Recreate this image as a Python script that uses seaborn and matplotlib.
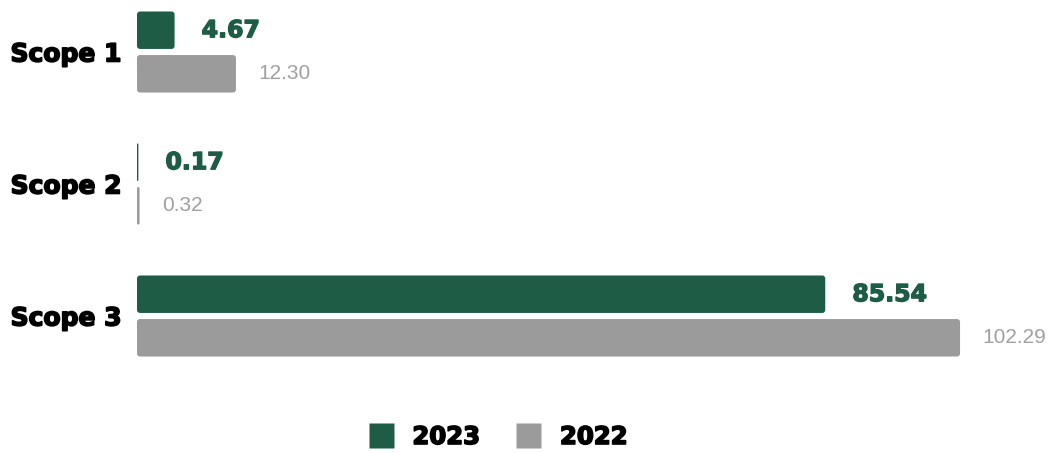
import matplotlib.pyplot as plt
import matplotlib.patheffects as pe
import pandas as pd
import seaborn as sns
from matplotlib.patches import FancyBboxPatch
from matplotlib.lines import Line2D

# Emissions by scope (values as shown on the chart)
scopes = ['Scope 1', 'Scope 2', 'Scope 3']
years = ['2023', '2022']
values_2023 = [4.67, 0.17, 85.54]
values_2022 = [12.30, 0.32, 102.29]

green = '#1f5c45'
grey = '#9b9b9b'
year_colors = {'2023': green, '2022': grey}


def build_frame():
    rows = []
    for year, vals in zip(years, [values_2023, values_2022]):
        for scope, v in zip(scopes, vals):
            rows.append({'Scope': scope, 'Year': year, 'Value': v})
    return pd.DataFrame(rows)


def round_bars(ax, px_x, px_y):
    # swap the square seaborn bars for rounded ones (about 3px corner radius)
    r_x = 3 / px_x
    aspect = (3 / px_y) / r_x
    for bar in list(ax.patches):
        x, y = bar.get_x(), bar.get_y()
        w, h = bar.get_width(), bar.get_height()
        if w <= 0:
            continue
        r = min(r_x, w / 2)
        fb = FancyBboxPatch((x, y), w, h,
                            boxstyle=f'round,pad=0,rounding_size={r}',
                            mutation_aspect=aspect,
                            facecolor=bar.get_facecolor(), edgecolor='none',
                            linewidth=0)
        bar.remove()
        ax.add_patch(fb)


def heavy(color, lw=1.0):
    # fake a heavier (Arial Black like) weight with a thin outline
    return [pe.withStroke(linewidth=lw, foreground=color)]


def main():
    df = build_frame()

    sns.set_theme(style='white')
    fig = plt.figure(figsize=(10.54, 4.53), dpi=100)
    W, H = 1054, 453
    left, top, bottom = 137, 0, 382
    ax = fig.add_axes([left / W, 1 - bottom / H, (W - left) / W, (bottom - top) / H])

    sns.barplot(data=df, x='Value', y='Scope', hue='Year', order=scopes,
                hue_order=years, palette=year_colors, orient='h', saturation=1,
                width=0.66, gap=0.14, ax=ax, legend=False, errorbar=None)

    ax.set_xlim(0, (W - left) / 8.046)
    ax.set_ylim(2.5, -52 / 132)

    px_x = 8.046
    px_y = 132
    round_bars(ax, px_x, px_y)

    # value labels
    hue_off = {'2023': -0.165, '2022': 0.165}
    for year, vals in zip(years, [values_2023, values_2022]):
        for i, v in enumerate(vals):
            if year == '2023':
                ax.annotate(f'{v:.2f}', (v, i + hue_off[year]), xytext=(19.5, 0),
                            textcoords='offset points', va='center', ha='left',
                            fontsize=17, fontweight='bold', color=green,
                            family='DejaVu Sans', path_effects=heavy(green))
            else:
                ax.annotate(f'{v:.2f}', (v, i + hue_off[year]), xytext=(16, 0),
                            textcoords='offset points', va='center', ha='left',
                            fontsize=15, color='#a0a0a0',
                            family='Liberation Sans')

    for s in ax.spines.values():
        s.set_visible(False)
    ax.set_xticks([])
    ax.set_xlabel('')
    ax.set_ylabel('')
    ax.tick_params(axis='y', length=0, pad=11)
    for lab in ax.get_yticklabels():
        lab.set_fontsize(18)
        lab.set_fontweight('bold')
        lab.set_family('DejaVu Sans')
        lab.set_color('black')
        lab.set_path_effects(heavy('black', 1.2))

    handles = [Line2D([], [], marker='s', linestyle='none', markersize=18,
                      markerfacecolor=year_colors[y], markeredgecolor='none')
               for y in years]
    leg = fig.legend(handles, years, loc='center', bbox_to_anchor=(498 / W, 1 - 437 / H),
                     ncol=2, frameon=False, handlelength=1.0, handletextpad=0.8,
                     columnspacing=1.5,
                     prop={'family': 'DejaVu Sans', 'weight': 'bold', 'size': 17.5})
    for t in leg.get_texts():
        t.set_color('black')
        t.set_path_effects(heavy('black', 1.2))

    fig.savefig('out.png', dpi=100)
    plt.close(fig)


if __name__ == '__main__':
    main()
